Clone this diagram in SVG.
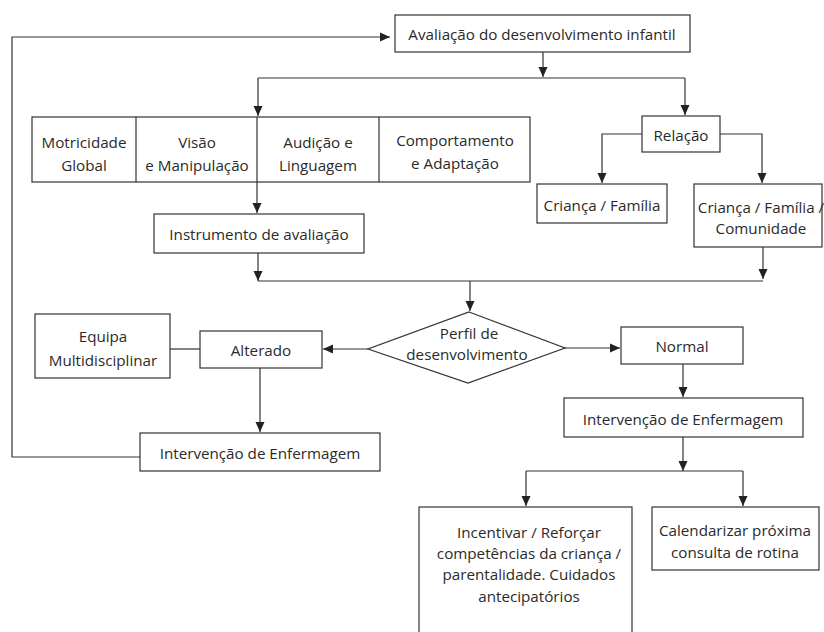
<svg xmlns="http://www.w3.org/2000/svg" width="824" height="632" viewBox="0 0 824 632">
<defs>
<marker id="ah" viewBox="0 0 10 10" refX="10" refY="5" markerWidth="10" markerHeight="10" markerUnits="userSpaceOnUse" orient="auto">
<path d="M0,0.5 L10,5 L0,9.5 z" fill="#222"/>
</marker>
</defs>
<style>
.box{fill:#fff;stroke:#333;stroke-width:1.2}
.t{font-family:"Open Sans","DejaVu Sans",sans-serif;font-size:15.2px;fill:#2a2a2a;text-anchor:middle;dominant-baseline:central}
.c{fill:none;stroke:#333;stroke-width:1.2}
.a{fill:none;stroke:#333;stroke-width:1.2;marker-end:url(#ah)}
</style>
<rect width="824" height="632" fill="#fff"/>
<g id="connectors">
<path class="a" d="M140,457 H12 V37 H390"/>
<path class="a" d="M543,52 V77"/>
<path class="c" d="M258,78 H685"/>
<path class="a" d="M258,78 V116"/>
<path class="a" d="M685,78 V115"/>
<path class="a" d="M642,134 H602 V183"/>
<path class="a" d="M720,134 H762 V183"/>
<path class="a" d="M257,182 V213"/>
<path class="a" d="M258,253 V281"/>
<path class="a" d="M763,247 V279"/>
<path class="c" d="M258,281 H763"/>
<path class="a" d="M470,281 V311"/>
<path class="a" d="M565,348 H620"/>
<path class="a" d="M368,349 H323"/>
<path class="c" d="M170,349 H200"/>
<path class="a" d="M260,368 V432"/>
<path class="a" d="M683,364 V397"/>
<path class="a" d="M683,437 V471"/>
<path class="c" d="M526,471 H743"/>
<path class="a" d="M526,471 V506"/>
<path class="a" d="M743,471 V506"/>
</g>
<g id="n-avaliacao">
<rect class="box" x="395" y="15" width="295" height="37"/>
<text class="t" x="542" y="34">Avaliação do desenvolvimento infantil</text>
</g>
<g id="n-areas">
<rect class="box" x="32" y="117" width="498" height="65"/>
<line class="c" x1="136" y1="117" x2="136" y2="182"/>
<line class="c" x1="257" y1="117" x2="257" y2="182"/>
<line class="c" x1="379" y1="117" x2="379" y2="182"/>
<text class="t" x="84" y="142">Motricidade</text>
<text class="t" x="84" y="165">Global</text>
<text class="t" x="197" y="142">Visão</text>
<text class="t" x="197" y="165">e Manipulação</text>
<text class="t" x="318" y="142">Audição e</text>
<text class="t" x="318" y="165">Linguagem</text>
<text class="t" x="455" y="140">Comportamento</text>
<text class="t" x="455" y="163">e Adaptação</text>
</g>
<g id="n-instrumento">
<rect class="box" x="154" y="214" width="210" height="39"/>
<text class="t" x="259" y="234">Instrumento de avaliação</text>
</g>
<g id="n-relacao">
<rect class="box" x="642" y="116" width="78" height="36"/>
<text class="t" x="681" y="135">Relação</text>
</g>
<g id="n-crianca-familia">
<rect class="box" x="537" y="184" width="130" height="39"/>
<text class="t" x="602" y="205">Criança / Família</text>
</g>
<g id="n-crianca-familia-comunidade">
<rect class="box" x="694" y="184" width="128" height="63"/>
<text class="t" x="761" y="207">Criança / Família /</text>
<text class="t" x="761" y="228">Comunidade</text>
</g>
<g id="n-perfil">
<polygon class="box" points="469,312 565,348 468,383 368,349"/>
<text class="t" x="469" y="333">Perfil de</text>
<text class="t" x="467" y="354">desenvolvimento</text>
</g>
<g id="n-equipa">
<rect class="box" x="35" y="314" width="135" height="64"/>
<text class="t" x="103" y="336">Equipa</text>
<text class="t" x="103" y="360">Multidisciplinar</text>
</g>
<g id="n-alterado">
<rect class="box" x="200" y="331" width="122" height="37"/>
<text class="t" x="261" y="350">Alterado</text>
</g>
<g id="n-intervencao-esq">
<rect class="box" x="140" y="433" width="240" height="38"/>
<text class="t" x="260" y="453">Intervenção de Enfermagem</text>
</g>
<g id="n-normal">
<rect class="box" x="621" y="327" width="122" height="37"/>
<text class="t" x="682" y="346">Normal</text>
</g>
<g id="n-intervencao-dir">
<rect class="box" x="564" y="398" width="239" height="39"/>
<text class="t" x="683" y="419">Intervenção de Enfermagem</text>
</g>
<g id="n-incentivar">
<rect class="box" x="419" y="507" width="213" height="130"/>
<text class="t" x="529" y="532">Incentivar / Reforçar</text>
<text class="t" x="529" y="553">competências da criança /</text>
<text class="t" x="529" y="574">parentalidade. Cuidados</text>
<text class="t" x="529" y="596">antecipatórios</text>
</g>
<g id="n-calendarizar">
<rect class="box" x="652" y="507" width="167" height="63"/>
<text class="t" x="735" y="530">Calendarizar próxima</text>
<text class="t" x="735" y="552">consulta de rotina</text>
</g>
</svg>
